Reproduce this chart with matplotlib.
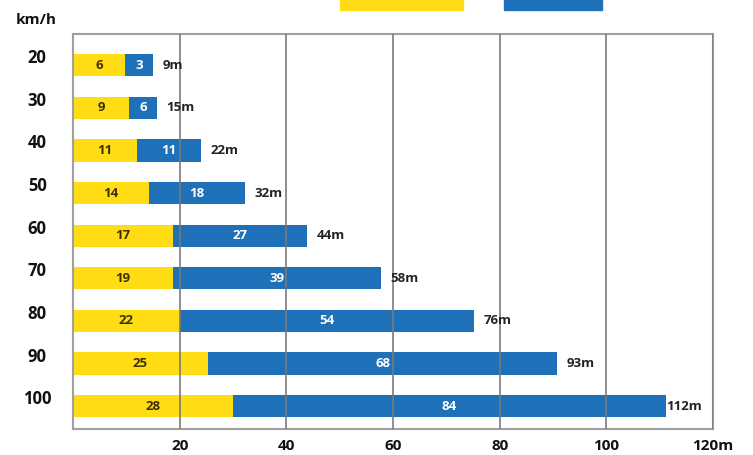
import matplotlib.pyplot as plt
from matplotlib.patches import Rectangle
import numpy as np

plt.rcParams['font.family'] = ['Open Sans', 'DejaVu Sans']

# speeds (km/h) and distances (m)
speeds = ['20', '30', '40', '50', '60', '70', '80', '90', '100']
thinking = [6, 9, 11, 14, 17, 19, 22, 25, 28]
braking = [3, 6, 11, 18, 27, 39, 54, 68, 84]
totals = ['9m', '15m', '22m', '32m', '44m', '58m', '76m', '93m', '112m']

# drawn bar lengths as they appear in the picture (not to scale for short bars)
yellow_len = [9.7, 10.5, 12, 14.2, 18.7, 18.7, 20, 25.3, 30]
blue_end = [15, 15.7, 24, 32.2, 43.8, 57.7, 75.1, 90.8, 111.2]

xticks = [20, 40, 60, 80, 100, 120]
xticklabels = ['20', '40', '60', '80', '100', '120m']

YELLOW = '#FFDC14'
BLUE = '#1E70B8'

fig = plt.figure(figsize=(7.53, 4.55), dpi=100)
ax = fig.add_axes([0.097, 0.057, 0.850, 0.868])

y = np.arange(len(speeds))
blue_len = np.array(blue_end) - np.array(yellow_len)
ax.barh(y, yellow_len, height=0.52, color=YELLOW, zorder=1)
ax.barh(y, blue_len, left=yellow_len, height=0.52, color=BLUE, zorder=1)

for i in range(len(speeds)):
    ax.text(yellow_len[i] / 2, y[i], str(thinking[i]), ha='center', va='center',
            fontsize=9.5, fontweight='bold', color='#3b3000', zorder=3)
    ax.text(yellow_len[i] + blue_len[i] / 2, y[i], str(braking[i]), ha='center', va='center',
            fontsize=9.5, fontweight='bold', color='white', zorder=3)
    gap = 0 if i == len(speeds) - 1 else 7
    ax.annotate(totals[i], (blue_end[i], y[i]), xytext=(gap, 0), textcoords='offset points',
                ha='left', va='center', fontsize=9.5, fontweight='bold', color='#222222', zorder=3)
    ax.annotate(speeds[i], (-0.056, y[i]), xycoords=('axes fraction', 'data'),
                xytext=(0, 5), textcoords='offset points', ha='center', va='center',
                fontsize=12, fontweight='bold', color='#111111', annotation_clip=False)

fig.text(0.048, 0.956, 'km/h', ha='center', va='center', fontsize=11,
         fontweight='bold', color='#111111')

ax.set_xlim(0, 120)
ax.set_ylim(8.54, -0.73)
ax.set_xticks(xticks)
ax.set_xticklabels(xticklabels, fontsize=11, fontweight='bold', color='#111111')
ax.tick_params(axis='x', length=0, pad=7)
ax.set_yticks([])
ax.grid(axis='x', color='#7a7a7a', lw=1.2)
ax.set_axisbelow(False)
for s in ax.spines.values():
    s.set_color('#a0a0a0')
    s.set_linewidth(1.5)

# legend swatches cut off at the top edge
fig.patches.append(Rectangle((0.4515, 0.978), 0.163, 0.03, transform=fig.transFigure,
                             color=YELLOW, clip_on=False))
fig.patches.append(Rectangle((0.669, 0.978), 0.130, 0.03, transform=fig.transFigure,
                             color=BLUE, clip_on=False))

plt.savefig('out.png', dpi=100)
